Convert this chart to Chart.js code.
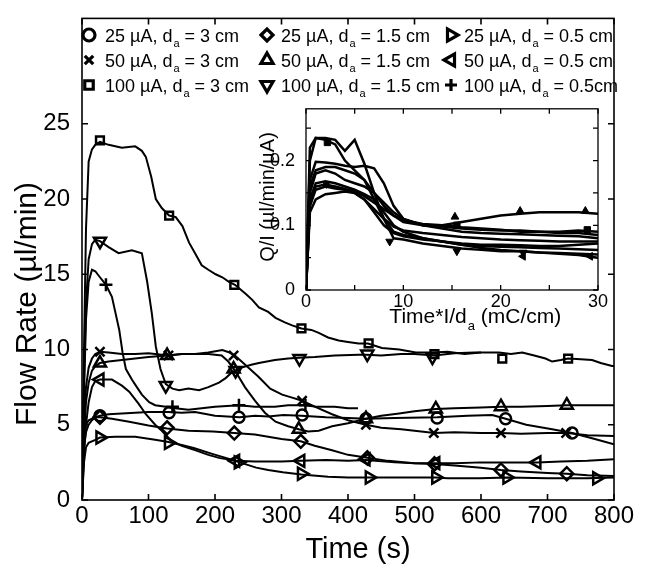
<!DOCTYPE html>
<html><head><meta charset="utf-8">
<script src="https://cdn.jsdelivr.net/npm/chart.js@4.4.1/dist/chart.umd.min.js"></script>
<style>
html,body{margin:0;padding:0;background:#fff;}
#wrap{position:relative;width:645px;height:578px;overflow:hidden;}
#main{position:absolute;left:0;top:0;}
#inset{position:absolute;left:240px;top:95px;}
</style></head><body>
<div id="wrap"><canvas id="main" width="645" height="578"></canvas><canvas id="inset" width="370" height="250"></canvas></div>
<script>
const FF = '"Liberation Sans", Arial, Helvetica, sans-serif';

// ===== Main plot data: time (s) vs flow rate (µl/min) =====
// 25 µA, da = 3 cm (circle)
const t_o = [0,3,6,10,20,27,40,60,80,100,130,150,170,200,237,260,280,303,330,367,400,427,470,534,580,617,637,668,707,737,767,800];
const q_o = [0,4.3,5.0,5.3,5.5,5.6,5.7,5.75,5.8,5.85,5.85,5.8,5.85,5.6,5.5,5.6,5.55,5.65,5.6,5.5,5.45,5.4,5.45,5.5,5.6,5.65,5.4,5.0,4.7,4.45,4.1,3.7];
const mt_o = [27,131,236,331,427,534,637,737];
const mq_o = [5.6,5.8,5.5,5.65,5.4,5.45,5.4,4.45];
// 50 µA, da = 3 cm (x)
const t_x = [0,3,6,10,15,20,27,40,60,80,100,130,150,170,190,211,222,230,240,250,265,283,301,316,331,350,376,400,427,450,480,500,530,560,600,630,660,700,730,760,800];
const q_x = [0,5,7.5,8.8,9.4,9.7,9.85,9.8,9.7,9.7,9.75,9.6,9.7,9.7,9.8,9.97,9.8,9.6,9.2,8.8,8.2,7.4,7.0,6.8,6.6,6.2,5.7,5.3,5.0,4.8,4.7,4.6,4.45,4.5,4.45,4.45,4.4,4.45,4.45,4.3,4.25];
const mt_x = [27,130,228,331,427,529,630,728];
const mq_x = [9.85,9.6,9.6,6.6,5.0,4.45,4.45,4.45];
// 100 µA, da = 3 cm (square)
const t_sq = [0,3,6,10,15,20,27,40,60,80,90,96,104,111,120,131,141,151,161,170,180,190,201,211,221,230,246,256,266,280,291,305,316,330,345,356,370,386,400,416,430,451,477,502,526,550,575,600,627,645,662,680,697,707,720,731,750,767,780,797,800];
const q_sq = [0,10,18,22.5,23.3,23.6,23.8,23.6,23.4,23.5,23.2,22.8,21.5,20,19.4,18.9,18.8,18.2,17.1,16.4,15.6,15.3,15.0,14.8,14.5,14.3,13.7,13.3,12.8,12.5,12.1,11.8,11.6,11.4,11.3,11.1,10.8,10.6,10.5,10.4,10.4,10.1,10.0,9.8,9.8,9.85,9.7,9.8,9.8,9.7,9.8,9.6,9.4,9.2,9.3,9.4,9.35,9.3,9.1,8.9,8.9];
const mt_sq = [27,131,229,330,431,530,632,731];
const mq_sq = [23.9,18.9,14.3,11.4,10.4,9.7,9.4,9.4];
// 25 µA, da = 1.5 cm (diamond)
const t_dia = [0,3,6,10,15,20,27,45,71,100,128,160,197,229,260,280,300,329,350,376,400,429,460,500,530,560,600,630,660,700,729,760,800];
const q_dia = [0,3.5,4.5,5.0,5.3,5.5,5.5,5.4,5.2,4.95,4.75,4.6,4.55,4.45,4.35,4.2,4.05,3.9,3.6,3.3,3.0,2.8,2.6,2.45,2.4,2.3,2.15,2.0,1.9,1.8,1.75,1.65,1.6];
const mt_dia = [27,128,229,329,429,530,630,729];
const mq_dia = [5.5,4.8,4.45,3.9,2.8,2.4,2.0,1.75];
// 50 µA, da = 1.5 cm (triangle up)
const t_tu = [0,3,6,10,15,20,27,40,60,80,100,128,150,170,190,210,220,230,245,260,275,291,310,326,340,356,376,400,427,450,477,500,532,560,600,630,660,700,729,760,800];
const q_tu = [0,4,6.5,7.8,8.6,8.9,9.1,9.2,9.3,9.4,9.5,9.6,9.7,9.7,9.7,9.6,9.2,8.6,7.5,6.6,5.8,5.2,4.9,4.7,4.55,4.6,4.9,5.1,5.4,5.6,5.75,5.9,6.05,6.1,6.15,6.2,6.2,6.25,6.3,6.3,6.3];
const mt_tu = [27,128,228,326,427,532,630,729];
const mq_tu = [9.1,9.6,8.7,4.7,5.4,6.05,6.2,6.3];
// 100 µA, da = 1.5 cm (triangle down)
const t_td = [0,3,6,10,15,20,27,40,55,75,90,98,105,111,118,126,136,146,160,176,190,206,216,226,240,256,266,290,310,326,350,380,416,427,450,480,500,530,560,590,600];
const q_td = [0,8,13,16,17,17.3,17.2,16.8,16.4,16.6,16.4,14.5,12.4,10.2,8.7,7.7,7.4,7.3,7.4,7.3,7.5,7.8,8.1,8.5,8.8,9.0,9.1,9.3,9.4,9.45,9.5,9.6,9.65,9.65,9.6,9.7,9.7,9.6,9.75,9.8,9.8];
const mt_td = [27,126,231,327,429,527];
const mq_td = [17.2,7.6,8.6,9.4,9.7,9.5];
// 25 µA, da = 0.5 cm (triangle right)
const t_tr = [0,3,6,10,20,27,50,80,110,130,150,168,197,220,237,262,280,302,330,370,400,432,470,508,532,550,598,640,700,760,800];
const q_tr = [0,2.5,3.5,3.8,4.0,4.15,4.2,4.2,4.0,3.85,3.65,3.45,3.05,2.75,2.5,2.15,2.0,1.85,1.7,1.55,1.5,1.5,1.5,1.5,1.5,1.45,1.45,1.5,1.45,1.45,1.5];
const mt_tr = [27,130,235,330,432,532,639,774];
const mq_tr = [4.15,3.8,2.5,1.75,1.5,1.5,1.5,1.45];
// 50 µA, da = 0.5 cm (triangle left)
const t_tl = [0,3,6,10,15,20,27,45,60,71,85,96,110,120,135,150,171,190,206,231,260,300,329,367,400,427,470,500,532,560,600,640,684,720,760,800];
const q_tl = [0,3,5,6.5,7.5,7.9,8.0,8.0,7.6,7.2,6.4,5.7,5.0,4.6,3.9,3.6,3.3,3.0,2.8,2.6,2.55,2.55,2.6,2.65,2.6,2.65,2.5,2.45,2.45,2.45,2.5,2.5,2.5,2.55,2.6,2.7];
const mt_tl = [27,231,329,427,532,684];
const mq_tl = [8.0,2.6,2.6,2.7,2.45,2.5];
// 100 µA, da = 0.5 cm (plus)
const t_pl = [0,3,6,10,15,20,27,36,45,50,56,61,66,75,81,90,101,110,126,140,160,180,200,236,260,290,310,336,352,380,400,415];
const q_pl = [0,7,12,14.5,15.3,15.2,14.8,14.3,13.5,12.5,11.3,9.8,8.7,8.0,7.6,7.0,6.5,6.3,6.2,6.1,6.0,6.1,6.2,6.3,6.2,6.2,6.3,6.3,6.2,6.2,6.1,6.1];
const mt_pl = [36,136,236,336];
const mq_pl = [14.3,6.2,6.3,6.3];

const legendLabels = [
  '25 µA, d_a = 3 cm','50 µA, d_a = 3 cm','100 µA, d_a = 3 cm',
  '25 µA, d_a = 1.5 cm','50 µA, d_a = 1.5 cm','100 µA, d_a = 1.5 cm',
  '25 µA, d_a = 0.5 cm','50 µA, d_a = 0.5 cm','100 µA, d_a = 0.5cm'
];

// ===== Inset data: Time*I/da (mC/cm) vs Q/I (µl/min/µA) =====
const insetX = [0,0.4,1,2,3,4,5,6,7,8,9,10,12,14,16,18,20,22,24,26,28,30];
const ins1 = [0,0.22,0.235,0.235,0.232,0.215,0.232,0.195,0.15,0.11,0.08,0.078,0.072,0.068,0.064,0.062,0.06,0.06,0.058,0.057,0.056,0.055];
const ins2 = [0,0.2,0.235,0.232,0.225,0.2,0.185,0.17,0.15,0.13,0.115,0.105,0.1,0.098,0.095,0.093,0.092,0.092,0.09,0.09,0.092,0.09];
const ins3 = [0,0.17,0.198,0.197,0.195,0.192,0.19,0.192,0.188,0.165,0.13,0.11,0.1,0.095,0.09,0.088,0.087,0.086,0.085,0.084,0.083,0.08];
const ins4 = [0,0.15,0.18,0.185,0.18,0.17,0.165,0.16,0.15,0.135,0.12,0.11,0.1,0.1,0.097,0.095,0.093,0.09,0.09,0.088,0.088,0.085];
const ins5 = [0,0.13,0.16,0.163,0.16,0.156,0.152,0.145,0.135,0.125,0.115,0.108,0.102,0.1,0.105,0.11,0.115,0.118,0.12,0.12,0.12,0.118];
const ins6 = [0,0.14,0.165,0.168,0.165,0.16,0.155,0.148,0.14,0.12,0.1,0.09,0.08,0.075,0.07,0.068,0.067,0.066,0.065,0.064,0.063,0.062];
const ins7 = [0,0.12,0.14,0.148,0.15,0.152,0.15,0.14,0.12,0.1,0.088,0.083,0.078,0.075,0.072,0.07,0.07,0.069,0.068,0.068,0.07,0.072];
const ins8 = [0,0.13,0.155,0.16,0.157,0.155,0.15,0.14,0.125,0.11,0.098,0.092,0.088,0.085,0.082,0.08,0.078,0.077,0.076,0.075,0.075,0.075];
const ins9 = [0,0.16,0.185,0.19,0.19,0.185,0.18,0.17,0.14,0.11,0.09,0.085,0.08,0.075,0.07,0.065,0.062,0.06,0.058,0.056,0.054,0.05];
const insMkTuX = [15.3,22,28.7], insMkTuY = [0.113,0.122,0.122];
const insMkTdX = [8.6,15.5,22.3], insMkTdY = [0.075,0.06,0.058];
const insMkSqX = [2.2,15.5,28.9], insMkSqY = [0.228,0.1,0.093];
const insMkTlX = [22.3,29.2], insMkTlY = [0.052,0.052];
const insMkTd2X = [2.1], insMkTd2Y = [0.164];

// ===== styles =====
const SERIES = [
  {t:t_o, q:q_o, mt:mt_o, mq:mq_o, ps:'circle', rot:0},
  {t:t_x, q:q_x, mt:mt_x, mq:mq_x, ps:'crossRot', rot:0},
  {t:t_sq, q:q_sq, mt:mt_sq, mq:mq_sq, ps:'rect', rot:0},
  {t:t_dia, q:q_dia, mt:mt_dia, mq:mq_dia, ps:'rectRot', rot:0},
  {t:t_tu, q:q_tu, mt:mt_tu, mq:mq_tu, ps:'triangle', rot:0},
  {t:t_td, q:q_td, mt:mt_td, mq:mq_td, ps:'triangle', rot:180},
  {t:t_tr, q:q_tr, mt:mt_tr, mq:mq_tr, ps:'triangle', rot:90},
  {t:t_tl, q:q_tl, mt:mt_tl, mq:mq_tl, ps:'triangle', rot:270},
  {t:t_pl, q:q_pl, mt:mt_pl, mq:mq_pl, ps:'cross', rot:0}
];
const pts = (xs, ys) => xs.map((x,i)=>({x:x, y:ys[i]}));
const mkRadius = ps => (ps==='rect' ? 5.5 : (ps==='circle' ? 5.5 : (ps==='triangle' ? 7 : 6.5)));

const mainDatasets = [];
SERIES.forEach(s=>{
  mainDatasets.push({data:pts(s.mt,s.mq), showLine:false, pointStyle:s.ps, pointRotation:s.rot,
    pointRadius:mkRadius(s.ps), pointBorderWidth:2.5, pointBorderColor:'#000',
    pointBackgroundColor:'rgba(255,255,255,0)', order:0});
});
SERIES.forEach(s=>{
  mainDatasets.push({data:pts(s.t,s.q), showLine:true, borderColor:'#000', borderWidth:2,
    pointRadius:0, tension:0, order:1});
});

// ===== plugins =====
const boxTicks = {
  id:'boxTicks',
  afterDatasetsDraw(chart, args, opts){
    const {ctx, chartArea:a, scales} = chart;
    const L = opts.len, lw = opts.lw;
    ctx.save();
    ctx.strokeStyle = '#000'; ctx.lineWidth = lw;
    ctx.strokeRect(a.left, a.top, a.right-a.left, a.bottom-a.top);
    ctx.beginPath();
    scales.x.ticks.forEach(tk=>{
      const p = scales.x.getPixelForValue(tk.value);
      ctx.moveTo(p, a.bottom); ctx.lineTo(p, a.bottom-L);
      ctx.moveTo(p, a.top); ctx.lineTo(p, a.top+L);
    });
    scales.y.ticks.forEach(tk=>{
      const p = scales.y.getPixelForValue(tk.value);
      ctx.moveTo(a.left, p); ctx.lineTo(a.left+L, p);
      ctx.moveTo(a.right, p); ctx.lineTo(a.right-L, p);
    });
    ctx.stroke();
    ctx.restore();
  }
};

function drawSubText(ctx, label, x, y, size){
  const parts = label.split('_a');
  ctx.font = size + 'px ' + FF;
  ctx.fillText(parts[0], x, y);
  x += ctx.measureText(parts[0]).width;
  ctx.font = Math.round(size*0.62) + 'px ' + FF;
  ctx.fillText('a', x+1, y + size*0.32);
  x += ctx.measureText('a').width + 1;
  ctx.font = size + 'px ' + FF;
  ctx.fillText(parts[1], x, y);
}

const mainDecor = {
  id:'mainDecor',
  afterDraw(chart){
    const ctx = chart.ctx;
    ctx.save();
    ctx.fillStyle = '#000';
    // axis titles
    ctx.font = '29px ' + FF;
    ctx.textAlign = 'center'; ctx.textBaseline = 'middle';
    ctx.fillText('Time (s)', 358, 550);
    ctx.font = '30px ' + FF;
    ctx.translate(28, 304); ctx.rotate(-Math.PI/2);
    ctx.fillText('Flow Rate (µl/min)', 0, 0);
    ctx.setTransform(1,0,0,1,0,0);
    // legend (3 columns x 3 rows)
    const colMk = [89, 267, 451], colTx = [105, 281, 464], rowY = [35, 60, 85];
    ctx.textAlign = 'left'; ctx.textBaseline = 'alphabetic';
    SERIES.forEach((s, i)=>{
      const c = Math.floor(i/3), r = i%3;
      ctx.strokeStyle = '#000'; ctx.fillStyle = 'rgba(255,255,255,0)';
      ctx.lineWidth = 3.2;
      Chart.helpers.drawPoint(ctx, {pointStyle:s.ps, rotation:s.rot, radius:(s.ps==='triangle'?7:6), borderWidth:3.2}, colMk[c], rowY[r]);
      ctx.fillStyle = '#000';
      drawSubText(ctx, legendLabels[i], colTx[c], rowY[r]+6.5, 18);
    });
    ctx.restore();
  }
};

new Chart(document.getElementById('main'), {
  type:'scatter',
  data:{datasets:mainDatasets},
  options:{
    responsive:false, animation:false, devicePixelRatio:1,
    layout:{padding:{top:11,right:31,left:0,bottom:0}},
    plugins:{legend:{display:false}, tooltip:{enabled:false}, boxTicks:{len:6, lw:1.6}},
    scales:{
      x:{type:'linear', min:0, max:800,
        ticks:{stepSize:100, color:'#000', font:{family:FF,size:24}, padding:-6, maxRotation:0, autoSkip:false},
        grid:{display:false}, border:{display:false},
        afterFit(s){ s.height = 78; }},
      y:{type:'linear', min:0, max:32,
        ticks:{stepSize:5, color:'#000', font:{family:FF,size:24}, padding:4},
        afterBuildTicks(s){ s.ticks = s.ticks.filter(t=>t.value<=25); },
        grid:{display:false}, border:{display:false},
        afterFit(s){ s.width = 82; }}
    }
  },
  plugins:[boxTicks, mainDecor]
});

// ===== inset =====
const INSET = [ins1,ins2,ins3,ins4,ins5,ins6,ins7,ins8,ins9];
const insetDatasets = [];
const insMarkers = [
  {x:insMkTuX, y:insMkTuY, ps:'triangle', rot:0},
  {x:insMkTdX, y:insMkTdY, ps:'triangle', rot:180},
  {x:insMkSqX, y:insMkSqY, ps:'rect', rot:0},
  {x:insMkTlX, y:insMkTlY, ps:'triangle', rot:270},
  {x:insMkTd2X, y:insMkTd2Y, ps:'triangle', rot:180}
];
insMarkers.forEach(m=>{
  insetDatasets.push({data:pts(m.x,m.y), showLine:false, pointStyle:m.ps, pointRotation:m.rot,
    pointRadius:4.5, pointBorderWidth:1, pointBorderColor:'#000', pointBackgroundColor:'#000', order:0});
});
INSET.forEach(v=>{
  insetDatasets.push({data:pts(insetX, v), showLine:true, borderColor:'#000', borderWidth:2.5, pointRadius:0, tension:0, order:1});
});

const insetDecor = {
  id:'insetDecor',
  afterDraw(chart){
    const ctx = chart.ctx;
    ctx.save();
    ctx.fillStyle = '#000';
    ctx.textAlign = 'left'; ctx.textBaseline = 'alphabetic';
    // x title with subscript
    const label = 'Time*I/d_a (mC/cm)';
    ctx.font = '21px ' + FF;
    const w = ctx.measureText(label.replace('_a','')).width - ctx.measureText('a').width*0.38;
    drawSubText(ctx, label, 229 - w/2, 228, 21);
    // y title
    ctx.textAlign = 'center'; ctx.textBaseline = 'middle';
    ctx.font = '20px ' + FF;
    ctx.translate(28, 102); ctx.rotate(-Math.PI/2);
    ctx.fillText('Q/I (µl/min/µA)', 0, 0);
    ctx.restore();
  }
};

new Chart(document.getElementById('inset'), {
  type:'scatter',
  data:{datasets:insetDatasets},
  options:{
    responsive:false, animation:false, devicePixelRatio:1,
    layout:{padding:{top:9,right:12,left:0,bottom:0}},
    plugins:{legend:{display:false}, tooltip:{enabled:false}, boxTicks:{len:5, lw:1.3}},
    scales:{
      x:{type:'linear', min:0, max:30,
        ticks:{stepSize:5, color:'#000', font:{family:FF,size:18}, padding:-7, maxRotation:0, autoSkip:false,
          callback:(v)=> (Math.abs(v % 10) < 1e-6 ? String(v) : '')},
        grid:{display:false}, border:{display:false},
        afterFit(s){ s.height = 55; }},
      y:{type:'linear', min:0, max:0.28,
        ticks:{stepSize:0.05, color:'#000', font:{family:FF,size:18}, padding:3,
          callback:(v)=> (Math.abs(v*10 - Math.round(v*10)) < 1e-6 ? String(+v.toFixed(1)) : '')},
        afterBuildTicks(s){ s.ticks = s.ticks.filter(t=>t.value<=0.2501); },
        grid:{display:false}, border:{display:false},
        afterFit(s){ s.width = 66; }}
    }
  },
  plugins:[boxTicks, insetDecor]
});
</script></body></html>
